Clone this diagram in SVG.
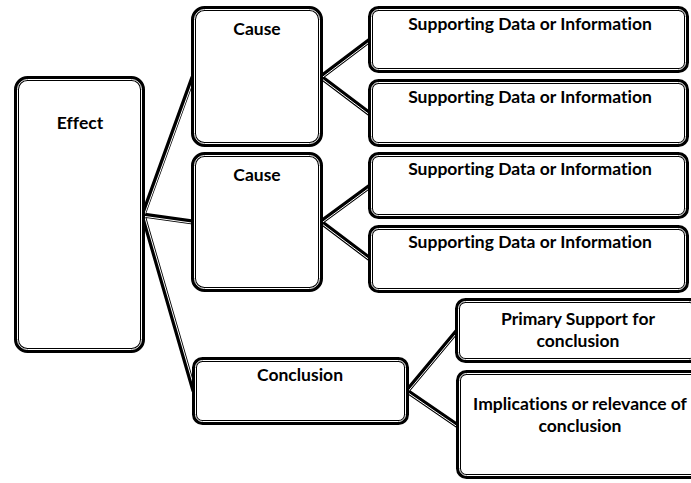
<svg xmlns="http://www.w3.org/2000/svg" width="691" height="483" viewBox="0 0 691 483">
<style>
.o{fill:#fff;stroke:#000;stroke-width:5}
.i{fill:none;stroke:#fff;stroke-width:1}
.cb{stroke:#000;stroke-width:5;stroke-linecap:butt;fill:none}
.cw{stroke:#fff;stroke-width:1;fill:none}
text{font-family:Lato,"Noto Sans","DejaVu Sans",sans-serif;font-weight:bold;font-size:17.5px;text-anchor:middle;fill:#000;font-variant-ligatures:none}
</style>
<rect width="691" height="483" fill="#fff"/>
<g id="connectors">
<path class="cb" d="M143,215L193,77M143,215L193,222M143,215L194,391M321,77L370,40M321,77L370,114M321,222L370,186M321,222L370,259M407,391L457,331M407,391L458,426"/>
<path class="cw" d="M144,216L194,78"/>
<path class="cw" d="M143,216.2L193,223.2"/>
<path class="cw" d="M144.2,215L195.2,391"/>
<path class="cw" d="M321.8,77.8L370.8,40.8"/>
<path class="cw" d="M321,78.2L370,115.2"/>
<path class="cw" d="M321.8,222.8L370.8,186.8"/>
<path class="cw" d="M321,223.2L370,260.2"/>
<path class="cw" d="M407.8,391.8L457.8,331.8"/>
<path class="cw" d="M407,392.2L458,427.2"/>
</g>
<g id="effect">
<rect class="o" x="16.5" y="78.5" width="126" height="272" rx="11"/>
<rect class="i" x="17.5" y="79.5" width="124" height="270" rx="10"/>
<text x="80" y="129">Effect</text>
</g>
<g id="cause1">
<rect class="o" x="193.5" y="8.5" width="127" height="136" rx="11"/>
<rect class="i" x="194.5" y="9.5" width="125" height="134" rx="10"/>
<text x="257" y="35">Cause</text>
</g>
<g id="cause2">
<rect class="o" x="193.5" y="154.5" width="127" height="135" rx="11"/>
<rect class="i" x="194.5" y="155.5" width="125" height="133" rx="10"/>
<text x="257" y="181">Cause</text>
</g>
<g id="support1">
<rect class="o" x="370.5" y="8.5" width="316" height="62" rx="8"/>
<rect class="i" x="371.5" y="9.5" width="314" height="60" rx="7"/>
<text x="530" y="30">Supporting Data or Information</text>
</g>
<g id="support2">
<rect class="o" x="370.5" y="81.5" width="316" height="63" rx="8"/>
<rect class="i" x="371.5" y="82.5" width="314" height="61" rx="7"/>
<text x="530" y="103">Supporting Data or Information</text>
</g>
<g id="support3">
<rect class="o" x="370.5" y="154.5" width="316" height="62" rx="8"/>
<rect class="i" x="371.5" y="155.5" width="314" height="60" rx="7"/>
<text x="530" y="175">Supporting Data or Information</text>
</g>
<g id="support4">
<rect class="o" x="370.5" y="227.5" width="316" height="63" rx="8"/>
<rect class="i" x="371.5" y="228.5" width="314" height="61" rx="7"/>
<text x="530" y="248">Supporting Data or Information</text>
</g>
<g id="conclusion">
<rect class="o" x="194.5" y="359.5" width="212" height="63" rx="8"/>
<rect class="i" x="195.5" y="360.5" width="210" height="61" rx="7"/>
<text x="300" y="381">Conclusion</text>
</g>
<g id="primary">
<rect class="o" x="457.5" y="300.5" width="240" height="60" rx="8"/>
<rect class="i" x="458.5" y="301.5" width="238" height="58" rx="7"/>
<text x="578" y="325">Primary Support for</text>
<text x="578" y="347">conclusion</text>
</g>
<g id="implications">
<rect class="o" x="458.5" y="372.5" width="241" height="104" rx="8"/>
<rect class="i" x="459.5" y="373.5" width="239" height="102" rx="7"/>
<text x="580" y="410">Implications or relevance of</text>
<text x="580" y="432">conclusion</text>
</g>
</svg>
